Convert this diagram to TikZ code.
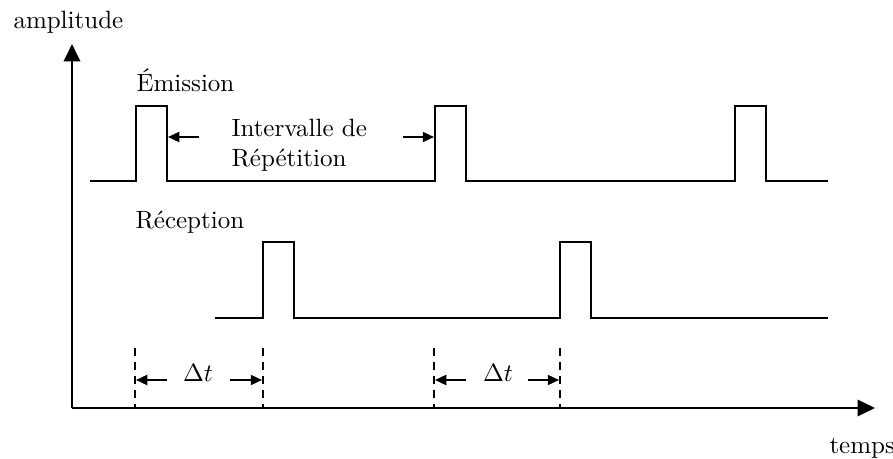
\documentclass[tikz,border=0pt]{standalone}
\usetikzlibrary{arrows.meta}
\begin{document}
\begin{tikzpicture}[x=0.4pt,y=-0.4pt,
  axis/.style={line width=1.1pt,-{Triangle[length=7pt,width=6.5pt]}},
  wave/.style={line width=0.85pt,line join=miter},
  guide/.style={line width=0.7pt,dash pattern=on 3.2pt off 2.4pt},
  dim/.style={line width=0.85pt,-{Triangle[length=4.5pt,width=4pt]}},
  lbl/.style={inner sep=0pt,anchor=base west,font=\fontsize{10}{12}\selectfont}]
\useasboundingbox (0,0) rectangle (893,459);
% axes
\coordinate (O) at (72,408);
\coordinate (Ytip) at (72,44);
\coordinate (Xtip) at (875,408);
\draw[axis] (O) -- (Ytip);
\draw[axis] (O) -- (Xtip);
\node[lbl] (amp) at (13,29) {amplitude};
\node[lbl] (temps) at (829,453) {temps};
% emission
\node[lbl] (emi) at (136,92) {Émission};
\coordinate (e0) at (90,181);
\coordinate (e1a) at (136,181); \coordinate (e1b) at (136,106);
\coordinate (e1c) at (167,106); \coordinate (e1d) at (167,181);
\coordinate (e2a) at (435,181); \coordinate (e2b) at (435,106);
\coordinate (e2c) at (466,106); \coordinate (e2d) at (466,181);
\coordinate (e3a) at (735,181); \coordinate (e3b) at (735,106);
\coordinate (e3c) at (766,106); \coordinate (e3d) at (766,181);
\coordinate (e4) at (828,181);
\draw[wave] (e0) -- (e1a) -- (e1b) -- (e1c) -- (e1d) -- (e2a) -- (e2b) -- (e2c) -- (e2d) -- (e3a) -- (e3b) -- (e3c) -- (e3d) -- (e4);
\node[lbl] (int1) at (231,137) {Intervalle de};
\node[lbl] (int2) at (231,166) {Répétition};
\coordinate (ia) at (199,137); \coordinate (ib) at (168,137);
\coordinate (ic) at (403,137); \coordinate (id) at (434,137);
\draw[dim] (ia) -- (ib);
\draw[dim] (ic) -- (id);
% reception
\node[lbl] (rec) at (135,228) {Réception};
\coordinate (r0) at (215,318);
\coordinate (r1a) at (263,318); \coordinate (r1b) at (263,242);
\coordinate (r1c) at (294,242); \coordinate (r1d) at (294,318);
\coordinate (r2a) at (560,318); \coordinate (r2b) at (560,242);
\coordinate (r2c) at (591,242); \coordinate (r2d) at (591,318);
\coordinate (r3) at (828,318);
\draw[wave] (r0) -- (r1a) -- (r1b) -- (r1c) -- (r1d) -- (r2a) -- (r2b) -- (r2c) -- (r2d) -- (r3);
% delta t guides
\foreach \n/\x in {g1/135,g2/263,g3/434,g4/560}{
  \coordinate (\n t) at (\x,348);
  \coordinate (\n b) at (\x,408);
  \draw[guide] (\n t) -- (\n b);
}
\coordinate (d1a) at (167,380); \coordinate (d1b) at (136,380);
\coordinate (d1c) at (230,380); \coordinate (d1d) at (262,380);
\coordinate (d2a) at (466,380); \coordinate (d2b) at (435,380);
\coordinate (d2c) at (528,380); \coordinate (d2d) at (559,380);
\draw[dim] (d1a) -- (d1b);
\draw[dim] (d1c) -- (d1d);
\draw[dim] (d2a) -- (d2b);
\draw[dim] (d2c) -- (d2d);
\node[inner sep=0pt,font=\fontsize{10}{12}\selectfont] (dt1) at (198,373) {$\Delta t$};
\node[inner sep=0pt,font=\fontsize{10}{12}\selectfont] (dt2) at (498,373) {$\Delta t$};
\end{tikzpicture}
\end{document}
